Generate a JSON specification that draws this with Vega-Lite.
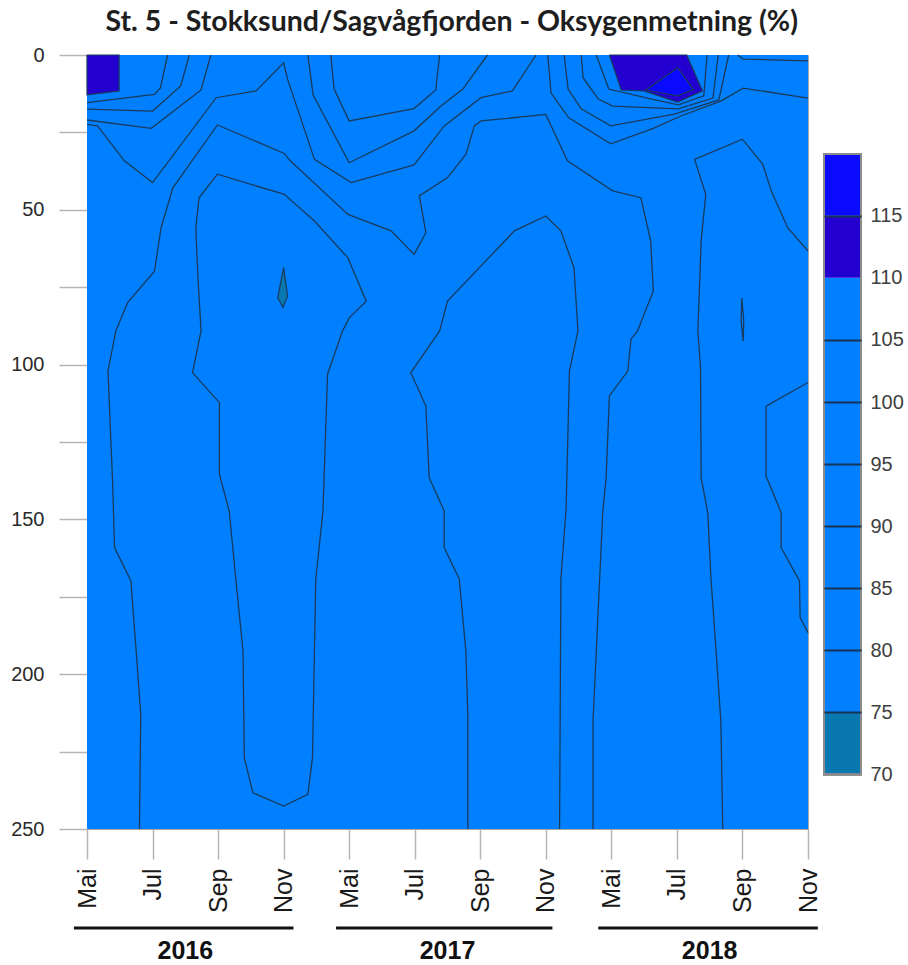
{
  "$schema": "https://vega.github.io/schema/vega-lite/v6.json",
  "padding": {"left": 10, "top": 8, "right": 0, "bottom": 8},
  "config": {
    "view": {"stroke": "#a8a8a8", "strokeWidth": 1},
    "font": "Liberation Sans",
    "axis": {"labelFont": "Liberation Sans"},
    "text": {"font": "Liberation Sans"}
  },
  "title": {"text": "St. 5 - Stokksund/Sagvågfjorden - Oksygenmetning (%)", "font": "Lato", "fontSize": 28.5, "fontWeight": "bold", "color": "#1e1e1e", "anchor": "middle", "offset": 8, "dx": -5},
  "spacing": 16,
  "bounds": "flush",
  "datasets": {
    "regions": [
      {"region": "high2016", "lvl": 110, "i": 0, "t": 0, "d": 0},
      {"region": "high2016", "lvl": 110, "i": 1, "t": 0.49, "d": 0},
      {"region": "high2016", "lvl": 110, "i": 2, "t": 0.49, "d": 11.6},
      {"region": "high2016", "lvl": 110, "i": 3, "t": 0, "d": 12.9},
      {"region": "high2016", "lvl": 110, "i": 4, "t": 0, "d": 0},
      {"region": "high2018", "lvl": 110, "i": 0, "t": 7.97, "d": 0},
      {"region": "high2018", "lvl": 110, "i": 1, "t": 9.15, "d": 0},
      {"region": "high2018", "lvl": 110, "i": 2, "t": 9.39, "d": 11.6},
      {"region": "high2018", "lvl": 110, "i": 3, "t": 9.01, "d": 15.2},
      {"region": "high2018", "lvl": 110, "i": 4, "t": 8.5, "d": 11.6},
      {"region": "high2018", "lvl": 110, "i": 5, "t": 8.15, "d": 11.3},
      {"region": "high2018", "lvl": 110, "i": 6, "t": 7.97, "d": 0},
      {"region": "peak2018", "lvl": 115, "i": 0, "t": 9.01, "d": 4.1},
      {"region": "peak2018", "lvl": 115, "i": 1, "t": 9.25, "d": 11.1},
      {"region": "peak2018", "lvl": 115, "i": 2, "t": 9.01, "d": 13.2},
      {"region": "peak2018", "lvl": 115, "i": 3, "t": 8.53, "d": 11.3},
      {"region": "peak2018", "lvl": 115, "i": 4, "t": 9.01, "d": 4.1},
      {"region": "low2016", "lvl": 70, "i": 0, "t": 3.0, "d": 68.7},
      {"region": "low2016", "lvl": 70, "i": 1, "t": 3.06, "d": 77.8},
      {"region": "low2016", "lvl": 70, "i": 2, "t": 2.99, "d": 81.6},
      {"region": "low2016", "lvl": 70, "i": 3, "t": 2.91, "d": 78.4},
      {"region": "low2016", "lvl": 70, "i": 4, "t": 3.0, "d": 68.7}
    ],
    "contours": [
      {"line": "L1", "i": 0, "t": 0, "d": 15.4},
      {"line": "L1", "i": 1, "t": 1.03, "d": 12.7},
      {"line": "L1", "i": 2, "t": 1.12, "d": 10.6},
      {"line": "L1", "i": 3, "t": 1.23, "d": 0},
      {"line": "L2", "i": 0, "t": 0, "d": 17.5},
      {"line": "L2", "i": 1, "t": 1.0, "d": 18.1},
      {"line": "L2", "i": 2, "t": 1.43, "d": 10.0},
      {"line": "L2", "i": 3, "t": 1.56, "d": 0},
      {"line": "L3", "i": 0, "t": 0, "d": 21.0},
      {"line": "L3", "i": 1, "t": 0.98, "d": 23.7},
      {"line": "L3", "i": 2, "t": 1.74, "d": 11.3},
      {"line": "L3", "i": 3, "t": 1.89, "d": 0},
      {"line": "LD", "i": 0, "t": 0, "d": 22.4},
      {"line": "LD", "i": 1, "t": 0.16, "d": 22.9},
      {"line": "LD", "i": 2, "t": 0.57, "d": 34.2},
      {"line": "LD", "i": 3, "t": 1.0, "d": 41.2},
      {"line": "LD", "i": 4, "t": 1.97, "d": 13.8},
      {"line": "LD", "i": 5, "t": 2.58, "d": 11.6},
      {"line": "LD", "i": 6, "t": 3.0, "d": 2.5},
      {"line": "LD", "i": 7, "t": 3.06, "d": 7.8},
      {"line": "LD", "i": 8, "t": 3.47, "d": 33.7},
      {"line": "LD", "i": 9, "t": 4.03, "d": 41.2},
      {"line": "LD", "i": 10, "t": 4.99, "d": 35.5},
      {"line": "LD", "i": 11, "t": 5.45, "d": 22.9},
      {"line": "LD", "i": 12, "t": 6.01, "d": 13.8},
      {"line": "LD", "i": 13, "t": 6.49, "d": 11.6},
      {"line": "LD", "i": 14, "t": 6.85, "d": 0},
      {"line": "Lii", "i": 0, "t": 3.37, "d": 0},
      {"line": "Lii", "i": 1, "t": 3.45, "d": 12.9},
      {"line": "Lii", "i": 2, "t": 4.0, "d": 34.8},
      {"line": "Lii", "i": 3, "t": 4.99, "d": 24.5},
      {"line": "Lii", "i": 4, "t": 5.4, "d": 16.5},
      {"line": "Lii", "i": 5, "t": 5.73, "d": 11.1},
      {"line": "Lii", "i": 6, "t": 6.11, "d": 0},
      {"line": "Lw", "i": 0, "t": 3.72, "d": 0},
      {"line": "Lw", "i": 1, "t": 3.77, "d": 11.0},
      {"line": "Lw", "i": 2, "t": 4.0, "d": 21.3},
      {"line": "Lw", "i": 3, "t": 4.99, "d": 17.3},
      {"line": "Lw", "i": 4, "t": 5.32, "d": 11.3},
      {"line": "Lw", "i": 5, "t": 5.38, "d": 0},
      {"line": "La", "i": 0, "t": 0.8, "d": 250},
      {"line": "La", "i": 1, "t": 0.82, "d": 212.9},
      {"line": "La", "i": 2, "t": 0.75, "d": 192.5},
      {"line": "La", "i": 3, "t": 0.67, "d": 169.9},
      {"line": "La", "i": 4, "t": 0.42, "d": 159.1},
      {"line": "La", "i": 5, "t": 0.39, "d": 137.6},
      {"line": "La", "i": 6, "t": 0.32, "d": 102.1},
      {"line": "La", "i": 7, "t": 0.44, "d": 89.1},
      {"line": "La", "i": 8, "t": 0.62, "d": 80.0},
      {"line": "La", "i": 9, "t": 1.03, "d": 69.8},
      {"line": "La", "i": 10, "t": 1.13, "d": 55.8},
      {"line": "La", "i": 11, "t": 1.31, "d": 42.9},
      {"line": "La", "i": 12, "t": 1.99, "d": 22.6},
      {"line": "La", "i": 13, "t": 3.01, "d": 31.8},
      {"line": "La", "i": 14, "t": 3.09, "d": 33.9},
      {"line": "La", "i": 15, "t": 3.98, "d": 51.5},
      {"line": "La", "i": 16, "t": 4.64, "d": 56.8},
      {"line": "La", "i": 17, "t": 4.99, "d": 64.4},
      {"line": "La", "i": 18, "t": 5.17, "d": 57.4},
      {"line": "La", "i": 19, "t": 5.07, "d": 45.5},
      {"line": "La", "i": 20, "t": 5.5, "d": 39.6},
      {"line": "La", "i": 21, "t": 5.78, "d": 32.1},
      {"line": "La", "i": 22, "t": 5.91, "d": 22.9},
      {"line": "La", "i": 23, "t": 6.01, "d": 21.3},
      {"line": "La", "i": 24, "t": 7.0, "d": 19.2},
      {"line": "La", "i": 25, "t": 7.33, "d": 34.2},
      {"line": "La", "i": 26, "t": 8.02, "d": 43.9},
      {"line": "La", "i": 27, "t": 8.45, "d": 46.1},
      {"line": "La", "i": 28, "t": 8.6, "d": 60.1},
      {"line": "La", "i": 29, "t": 8.64, "d": 76.2},
      {"line": "La", "i": 30, "t": 8.4, "d": 89.1},
      {"line": "La", "i": 31, "t": 8.3, "d": 91.8},
      {"line": "La", "i": 32, "t": 8.25, "d": 102.1},
      {"line": "La", "i": 33, "t": 7.97, "d": 110.1},
      {"line": "La", "i": 34, "t": 7.92, "d": 136.5},
      {"line": "La", "i": 35, "t": 7.87, "d": 147.3},
      {"line": "La", "i": 36, "t": 7.77, "d": 192.5},
      {"line": "La", "i": 37, "t": 7.72, "d": 215.1},
      {"line": "La", "i": 38, "t": 7.72, "d": 250},
      {"line": "Lb", "i": 0, "t": 2.53, "d": 238.3},
      {"line": "Lb", "i": 1, "t": 2.4, "d": 227.0},
      {"line": "Lb", "i": 2, "t": 2.38, "d": 192.5},
      {"line": "Lb", "i": 3, "t": 2.27, "d": 169.3},
      {"line": "Lb", "i": 4, "t": 2.17, "d": 147.3},
      {"line": "Lb", "i": 5, "t": 2.02, "d": 135.4},
      {"line": "Lb", "i": 6, "t": 2.02, "d": 112.3},
      {"line": "Lb", "i": 7, "t": 1.61, "d": 102.6},
      {"line": "Lb", "i": 8, "t": 1.74, "d": 89.1},
      {"line": "Lb", "i": 9, "t": 1.69, "d": 70.8},
      {"line": "Lb", "i": 10, "t": 1.66, "d": 55.8},
      {"line": "Lb", "i": 11, "t": 1.71, "d": 46.1},
      {"line": "Lb", "i": 12, "t": 1.99, "d": 38.5},
      {"line": "Lb", "i": 13, "t": 3.01, "d": 45.0},
      {"line": "Lb", "i": 14, "t": 3.47, "d": 53.6},
      {"line": "Lb", "i": 15, "t": 3.98, "d": 65.5},
      {"line": "Lb", "i": 16, "t": 4.26, "d": 79.5},
      {"line": "Lb", "i": 17, "t": 4.0, "d": 84.9},
      {"line": "Lb", "i": 18, "t": 3.9, "d": 89.1},
      {"line": "Lb", "i": 19, "t": 3.67, "d": 103.1},
      {"line": "Lb", "i": 20, "t": 3.6, "d": 147.3},
      {"line": "Lb", "i": 21, "t": 3.49, "d": 169.3},
      {"line": "Lb", "i": 22, "t": 3.47, "d": 192.5},
      {"line": "Lb", "i": 23, "t": 3.44, "d": 227.0},
      {"line": "Lb", "i": 24, "t": 3.37, "d": 238.8},
      {"line": "Lb", "i": 25, "t": 3.0, "d": 242.6},
      {"line": "Lb", "i": 26, "t": 2.53, "d": 238.3},
      {"line": "Lc", "i": 0, "t": 5.81, "d": 250},
      {"line": "Lc", "i": 1, "t": 5.81, "d": 213.0},
      {"line": "Lc", "i": 2, "t": 5.78, "d": 192.5},
      {"line": "Lc", "i": 3, "t": 5.68, "d": 169.3},
      {"line": "Lc", "i": 4, "t": 5.45, "d": 159.1},
      {"line": "Lc", "i": 5, "t": 5.45, "d": 147.3},
      {"line": "Lc", "i": 6, "t": 5.22, "d": 136.5},
      {"line": "Lc", "i": 7, "t": 5.17, "d": 113.4},
      {"line": "Lc", "i": 8, "t": 4.94, "d": 102.6},
      {"line": "Lc", "i": 9, "t": 5.38, "d": 89.1},
      {"line": "Lc", "i": 10, "t": 5.5, "d": 79.5},
      {"line": "Lc", "i": 11, "t": 6.52, "d": 56.8},
      {"line": "Lc", "i": 12, "t": 7.0, "d": 52.0},
      {"line": "Lc", "i": 13, "t": 7.23, "d": 56.8},
      {"line": "Lc", "i": 14, "t": 7.43, "d": 68.7},
      {"line": "Lc", "i": 15, "t": 7.49, "d": 89.1},
      {"line": "Lc", "i": 16, "t": 7.36, "d": 102.1},
      {"line": "Lc", "i": 17, "t": 7.31, "d": 146.2},
      {"line": "Lc", "i": 18, "t": 7.23, "d": 169.3},
      {"line": "Lc", "i": 19, "t": 7.21, "d": 250},
      {"line": "Lf", "i": 0, "t": 9.7, "d": 250},
      {"line": "Lf", "i": 1, "t": 9.67, "d": 215.1},
      {"line": "Lf", "i": 2, "t": 9.6, "d": 193.1},
      {"line": "Lf", "i": 3, "t": 9.52, "d": 169.3},
      {"line": "Lf", "i": 4, "t": 9.47, "d": 147.8},
      {"line": "Lf", "i": 5, "t": 9.37, "d": 136.5},
      {"line": "Lf", "i": 6, "t": 9.36, "d": 101.0},
      {"line": "Lf", "i": 7, "t": 9.32, "d": 89.1},
      {"line": "Lf", "i": 8, "t": 9.37, "d": 60.1},
      {"line": "Lf", "i": 9, "t": 9.44, "d": 45.0},
      {"line": "Lf", "i": 10, "t": 9.27, "d": 33.7},
      {"line": "Lf", "i": 11, "t": 10.0, "d": 27.2},
      {"line": "Lf", "i": 12, "t": 10.31, "d": 35.3},
      {"line": "Lf", "i": 13, "t": 10.44, "d": 43.9},
      {"line": "Lf", "i": 14, "t": 10.69, "d": 55.8},
      {"line": "Lf", "i": 15, "t": 11, "d": 63.3},
      {"line": "Lh", "i": 0, "t": 11, "d": 105.8},
      {"line": "Lh", "i": 1, "t": 10.36, "d": 113.4},
      {"line": "Lh", "i": 2, "t": 10.36, "d": 136.0},
      {"line": "Lh", "i": 3, "t": 10.59, "d": 147.8},
      {"line": "Lh", "i": 4, "t": 10.59, "d": 159.1},
      {"line": "Lh", "i": 5, "t": 10.87, "d": 169.9},
      {"line": "Lh", "i": 6, "t": 10.88, "d": 181.7},
      {"line": "Lh", "i": 7, "t": 11, "d": 186.6},
      {"line": "Lg", "i": 0, "t": 9.99, "d": 78.5},
      {"line": "Lg", "i": 1, "t": 10.02, "d": 85.9},
      {"line": "Lg", "i": 2, "t": 10.01, "d": 92.4},
      {"line": "Lg", "i": 3, "t": 9.98, "d": 85.9},
      {"line": "Lg", "i": 4, "t": 9.99, "d": 78.5},
      {"line": "T1", "i": 0, "t": 7.77, "d": 0},
      {"line": "T1", "i": 1, "t": 7.96, "d": 11.0},
      {"line": "T1", "i": 2, "t": 8.6, "d": 14.2},
      {"line": "T1", "i": 3, "t": 9.02, "d": 16.1},
      {"line": "T1", "i": 4, "t": 9.41, "d": 13.2},
      {"line": "T1", "i": 5, "t": 9.46, "d": 0},
      {"line": "T2", "i": 0, "t": 7.54, "d": 0},
      {"line": "T2", "i": 1, "t": 7.57, "d": 7.4},
      {"line": "T2", "i": 2, "t": 7.8, "d": 14.2},
      {"line": "T2", "i": 3, "t": 8.02, "d": 16.5},
      {"line": "T2", "i": 4, "t": 9.02, "d": 17.4},
      {"line": "T2", "i": 5, "t": 9.55, "d": 13.9},
      {"line": "T2", "i": 6, "t": 9.63, "d": 0},
      {"line": "T3", "i": 0, "t": 7.28, "d": 0},
      {"line": "T3", "i": 1, "t": 7.34, "d": 11.0},
      {"line": "T3", "i": 2, "t": 7.54, "d": 17.4},
      {"line": "T3", "i": 3, "t": 7.99, "d": 22.9},
      {"line": "T3", "i": 4, "t": 8.96, "d": 19.1},
      {"line": "T3", "i": 5, "t": 9.64, "d": 14.5},
      {"line": "T3", "i": 6, "t": 9.79, "d": 0},
      {"line": "T4", "i": 0, "t": 7.03, "d": 0},
      {"line": "T4", "i": 1, "t": 7.08, "d": 12.3},
      {"line": "T4", "i": 2, "t": 7.35, "d": 20.3},
      {"line": "T4", "i": 3, "t": 7.99, "d": 28.7},
      {"line": "T4", "i": 4, "t": 8.65, "d": 23.6},
      {"line": "T4", "i": 5, "t": 9.06, "d": 19.7},
      {"line": "T4", "i": 6, "t": 9.67, "d": 14.9},
      {"line": "T4", "i": 7, "t": 10.01, "d": 10.7},
      {"line": "T4", "i": 8, "t": 11, "d": 13.9},
      {"line": "T5", "i": 0, "t": 9.93, "d": 0},
      {"line": "T5", "i": 1, "t": 10.01, "d": 1.3},
      {"line": "T5", "i": 2, "t": 11, "d": 1.9}
    ],
    "years": [
      {"year": "2016", "start": -0.2, "end": 3.15, "mid": 1.5},
      {"year": "2017", "start": 3.8, "end": 7.1, "mid": 5.5},
      {"year": "2018", "start": 7.8, "end": 11.15, "mid": 9.5}
    ],
    "bands": [
      {"lo": 70, "hi": 75}, {"lo": 75, "hi": 80}, {"lo": 80, "hi": 85}, {"lo": 85, "hi": 90},
      {"lo": 90, "hi": 95}, {"lo": 95, "hi": 100}, {"lo": 100, "hi": 105}, {"lo": 105, "hi": 110},
      {"lo": 110, "hi": 115}, {"lo": 115, "hi": 120}
    ]
  },
  "resolve": {"scale": {"fill": "independent"}},
  "hconcat": [
    {
      "width": 721,
      "height": 774,
      "layer": [
        {
          "data": {"values": [{"t0": 0, "t1": 11, "d0": 0, "d1": 250, "lvl": 100}]},
          "mark": "rect",
          "encoding": {
            "x": {
              "field": "t0", "type": "quantitative",
              "scale": {"domain": [0, 11], "nice": false, "zero": false},
              "axis": {
                "title": null, "values": [0, 1, 2, 3, 4, 5, 6, 7, 8, 9, 10, 11],
                "labelExpr": "['Mai','Jul','Sep','Nov'][datum.value % 4]",
                "labelAngle": 270, "labelFontSize": 25, "labelColor": "#1a1a1a", "labelFont": "Liberation Sans",
                "labelPadding": 9, "tickSize": 30, "tickColor": "#b5b5b5", "tickWidth": 1.5,
                "domainColor": "#a8a8a8", "grid": false, "labelFlush": false, "labelOverlap": false
              }
            },
            "x2": {"field": "t1"},
            "y": {
              "field": "d0", "type": "quantitative",
              "scale": {"domain": [0, 250], "reverse": true, "nice": false, "zero": false},
              "axis": {
                "title": null, "values": [0, 25, 50, 75, 100, 125, 150, 175, 200, 225, 250],
                "labelExpr": "datum.value % 50 === 0 ? datum.label : ''",
                "labelFontSize": 20, "labelColor": "#2a2a2a", "labelFont": "Liberation Sans", "labelPadding": 15,
                "tickSize": 28, "tickColor": "#b5b5b5", "tickWidth": 1.5,
                "domainColor": "#a8a8a8", "grid": false, "labelFlush": false, "labelOverlap": false
              }
            },
            "y2": {"field": "d1"},
            "fill": {
              "field": "lvl", "type": "quantitative", "legend": null,
              "scale": {"type": "threshold", "domain": [75, 110, 115], "range": ["#0a78b0", "#0080ff", "#2300cf", "#0a0aff"]}
            }
          }
        },
        {
          "data": {"name": "regions"},
          "mark": {"type": "line", "stroke": "#1a3a5c", "strokeWidth": 1.2},
          "encoding": {
            "x": {"field": "t", "type": "quantitative"},
            "y": {"field": "d", "type": "quantitative"},
            "detail": {"field": "region"},
            "order": {"field": "i"},
            "fill": {
              "field": "lvl", "type": "quantitative", "legend": null,
              "scale": {"type": "threshold", "domain": [75, 110, 115], "range": ["#0a78b0", "#0080ff", "#2300cf", "#0a0aff"]}
            }
          }
        },
        {
          "data": {"name": "contours"},
          "mark": {"type": "line", "stroke": "#1a3a5c", "strokeWidth": 1.3},
          "encoding": {
            "x": {"field": "t", "type": "quantitative"},
            "y": {"field": "d", "type": "quantitative"},
            "detail": {"field": "line"},
            "order": {"field": "i"}
          }
        },
        {
          "data": {"name": "years"},
          "mark": {"type": "rule", "strokeWidth": 3, "color": "#111111"},
          "encoding": {
            "x": {"field": "start", "type": "quantitative"},
            "x2": {"field": "end"},
            "y": {"datum": 282}
          }
        },
        {
          "data": {"name": "years"},
          "mark": {"type": "text", "font": "Liberation Sans", "fontSize": 25, "fontWeight": "bold", "baseline": "middle", "color": "#111111"},
          "encoding": {
            "x": {"field": "mid", "type": "quantitative"},
            "y": {"datum": 289.5},
            "text": {"field": "year", "type": "nominal"}
          }
        }
      ]
    },
    {
      "width": 37,
      "height": 774,
      "view": {"stroke": null},
      "data": {"name": "bands"},
      "layer": [
        {
          "mark": "rect",
          "encoding": {
            "y": {
              "field": "lo", "type": "quantitative",
              "scale": {"domain": [65.61, 127.95], "nice": false, "zero": false},
              "axis": {
                "orient": "right", "title": null, "values": [70, 75, 80, 85, 90, 95, 100, 105, 110, 115],
                "ticks": false, "tickSize": 0, "domain": false, "grid": true,
                "gridColor": {"condition": {"test": "datum.value === 70 || datum.value === 110", "value": "transparent"}, "value": "#163456"},
                "gridWidth": 2, "zindex": 1, "labelFontSize": 20, "labelFont": "Liberation Sans", "labelColor": "#404040", "labelPadding": 9, "labelFlush": false
              }
            },
            "y2": {"field": "hi"},
            "fill": {
              "field": "lo", "type": "quantitative", "legend": null,
              "scale": {"type": "threshold", "domain": [75, 110, 115], "range": ["#0a78b0", "#0080ff", "#2300cf", "#0a0aff"]}
            }
          }
        },
        {
          "mark": {"type": "rect", "fillOpacity": 0, "stroke": "#8c8c8c", "strokeWidth": 1.5},
          "encoding": {
            "y": {"datum": 70},
            "y2": {"datum": 120}
          }
        }
      ]
    }
  ]
}
